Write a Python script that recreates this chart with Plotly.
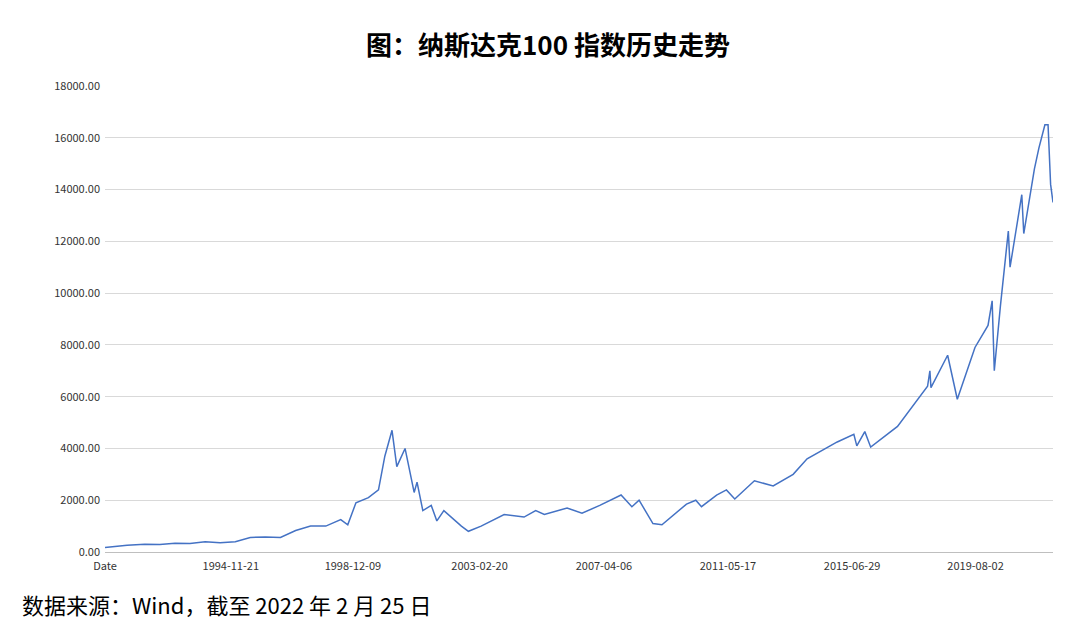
import plotly.graph_objects as go

dates = [
    "1990-09-20", "1991-01-15", "1991-06-15", "1992-01-15", "1992-07-15", "1993-01-15", "1993-07-15",
    "1994-01-15", "1994-07-15", "1995-01-15", "1995-07-15", "1996-01-15", "1996-07-15", "1997-01-15",
    "1997-07-15", "1998-01-15", "1998-07-15", "1998-10-08", "1999-01-15", "1999-06-15", "1999-10-15",
    "1999-12-31", "2000-03-27", "2000-05-24", "2000-09-01", "2000-12-20", "2001-01-24", "2001-04-04",
    "2001-07-15", "2001-09-21", "2001-12-15", "2002-07-15", "2002-10-08", "2003-03-11", "2003-12-15",
    "2004-08-12", "2004-12-31", "2005-04-15", "2006-01-15", "2006-07-15", "2007-02-15", "2007-10-31",
    "2008-03-10", "2008-06-05", "2008-11-20", "2009-03-09", "2009-12-31", "2010-04-23", "2010-07-01",
    "2010-12-31", "2011-04-29", "2011-08-08", "2012-04-02", "2012-11-15", "2013-07-15", "2013-12-31",
    "2014-12-31", "2015-07-20", "2015-08-25", "2015-11-30", "2016-02-09", "2016-12-30", "2017-12-29",
    "2018-01-26", "2018-02-08", "2018-08-29", "2018-12-24", "2019-07-26", "2019-12-31", "2020-02-19",
    "2020-03-16", "2020-05-29", "2020-09-02", "2020-09-23", "2020-12-31", "2021-02-12", "2021-03-08",
    "2021-07-15", "2021-09-07", "2021-11-19", "2021-12-27", "2022-01-27", "2022-02-25",
]
values = [
    170, 220, 260, 300, 290, 340, 330,
    400, 360, 400, 560, 580, 560, 830,
    1000, 1000, 1250, 1050, 1900, 2100, 2400,
    3700, 4700, 3300, 4000, 2300, 2700, 1600,
    1800, 1200, 1600, 1000, 800, 1000, 1450,
    1350, 1600, 1450, 1700, 1500, 1800, 2200,
    1750, 2000, 1100, 1050, 1850, 2000, 1750,
    2200, 2400, 2050, 2750, 2550, 3000, 3600,
    4250, 4550, 4100, 4650, 4050, 4850, 6400,
    7000, 6350, 7600, 5900, 7900, 8750, 9700,
    7000, 9500, 12400, 11000, 12900, 13800, 12300,
    14800, 15600, 16500, 16500, 14200, 13500,
]

tick_vals = ["1990-09-20", "1994-11-21", "1998-12-09", "2003-02-20", "2007-04-06",
             "2011-05-17", "2015-06-29", "2019-08-02"]
tick_text = ["Date", "1994-11-21", "1998-12-09", "2003-02-20", "2007-04-06",
             "2011-05-17", "2015-06-29", "2019-08-02"]

fig = go.Figure(go.Scatter(x=dates, y=values, mode="lines",
                           line=dict(color="#4472C4", width=1.5), showlegend=False))

fig.update_layout(
    width=1080, height=642,
    paper_bgcolor="white", plot_bgcolor="white",
    margin=dict(l=97, r=35, t=78, b=98),
    font=dict(family="Noto Sans CJK SC, DejaVu Sans", color="#333"),
    title=dict(text="<b>图：纳斯达克100 指数历史走势</b>", x=0.5, xanchor="center",
               y=0.955, font=dict(size=26, color="#000")),
    xaxis=dict(type="date", range=["1990-09-20", "2022-02-25"], tickvals=tick_vals,
               ticktext=tick_text, showgrid=False, showline=True, linecolor="#bfbfbf",
               ticks="", ticklabelstandoff=4, tickfont=dict(size=11, color="#333")),
    yaxis=dict(range=[0, 18000], dtick=2000, tickformat=".2f", gridcolor="#d9d9d9",
               zeroline=False, ticklabelstandoff=4, tickfont=dict(size=11, color="#333")),
    annotations=[dict(text="数据来源：Wind，截至 2022 年 2 月 25 日", xref="paper", yref="paper",
                      x=-0.09, y=-0.15, xanchor="left", showarrow=False,
                      font=dict(size=22, color="#000"))],
)

fig.write_html("out.html")
